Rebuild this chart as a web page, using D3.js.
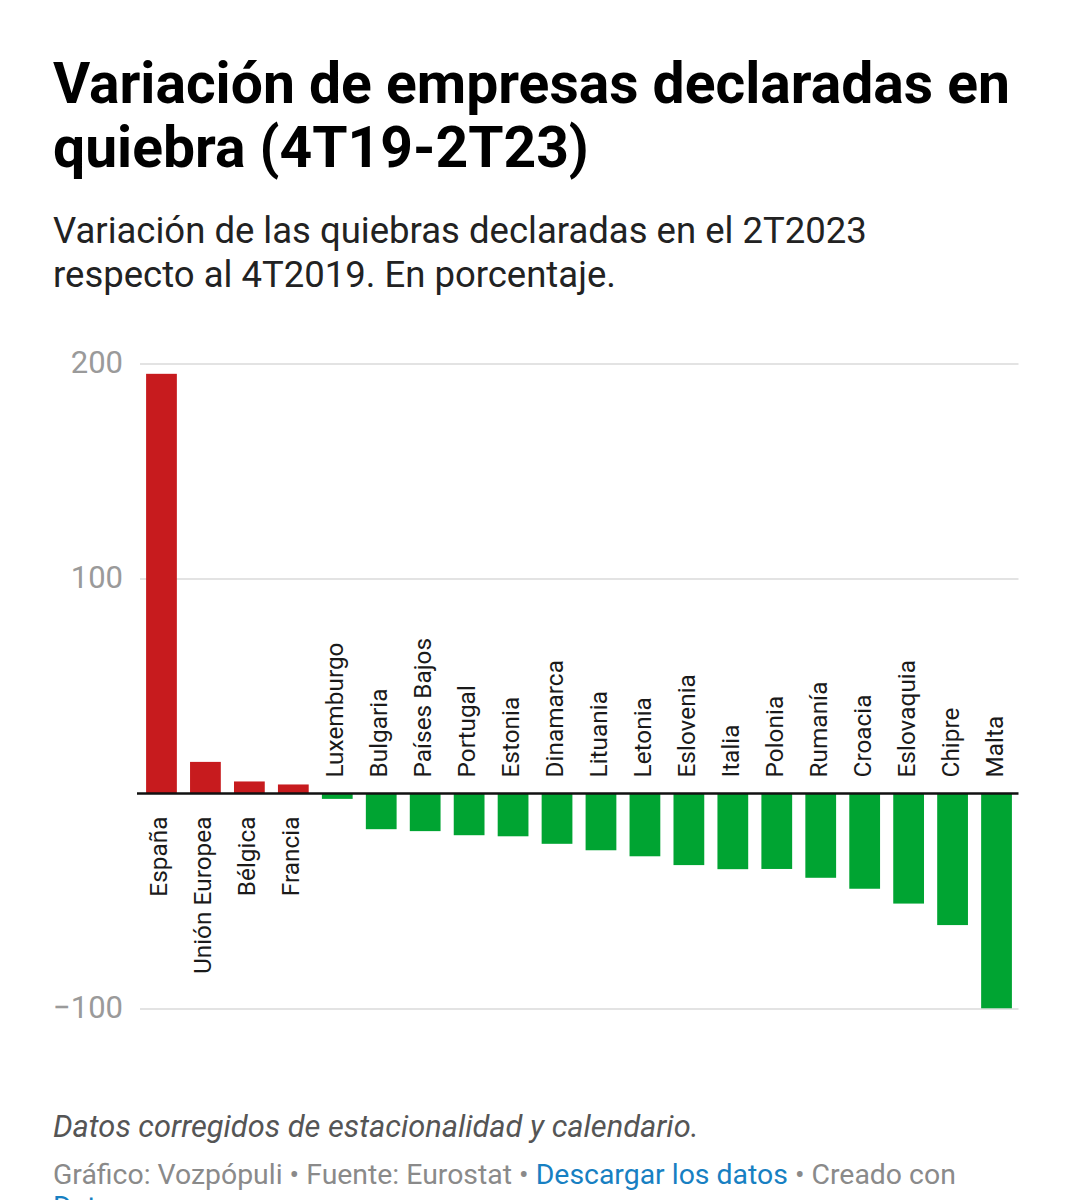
<!DOCTYPE html>
<html>
<head>
<meta charset="utf-8">
<script src="https://cdn.jsdelivr.net/npm/d3@7"></script>
<style>
  body { margin: 0; background: #fff; font-family: Roboto, sans-serif; }
  svg text { font-family: Roboto, sans-serif; }
</style>
</head>
<body>
<script>
// data
const countries = ['España', 'Unión Europea', 'Bélgica', 'Francia', 'Luxemburgo', 'Bulgaria',
    'Países Bajos', 'Portugal', 'Estonia', 'Dinamarca', 'Lituania', 'Letonia', 'Eslovenia',
    'Italia', 'Polonia', 'Rumanía', 'Croacia', 'Eslovaquia', 'Chipre', 'Malta']
const variation = [195.2, 14.7, 5.6, 4.2, -2.5, -16.6, -17.5, -19.4, -19.9, -23.4, -26.4, -29.2,
    -33.3, -35.2, -35.1, -39.2, -44.3, -51.2, -61.2, -99.9]
const yTicks = [200, 100, -100]

const titleLines = ['Variación de empresas declaradas en', 'quiebra (4T19-2T23)']
const subtitleLines = ['Variación de las quiebras declaradas en el 2T2023', 'respecto al 4T2019. En porcentaje.']
const note = 'Datos corregidos de estacionalidad y calendario.'

var width = 1068, height = 1200
var plot = { left: 139.5, right: 1018.5, top: 363.5, bottom: 1008.5 }

var svg = d3.select('body')
    .append('svg')
    .attr('width', width)
    .attr('height', height)

function makeHeader() {
    svg.selectAll('.title')
        .data(titleLines)
        .enter()
        .append('text')
        .attr('class', 'title')
        .attr('x', 53)
        .attr('y', (_, i) => 103 + i * 64)
        .style('font-size', '57px')
        .style('font-weight', 700)
        .style('fill', '#000')
        .text(d => d)

    svg.selectAll('.subtitle')
        .data(subtitleLines)
        .enter()
        .append('text')
        .attr('class', 'subtitle')
        .attr('x', 53)
        .attr('y', (_, i) => 243 + i * 44)
        .style('font-size', '36.5px')
        .style('fill', '#222')
        .text(d => d)
}

function makeChart() {
    var x = d3.scaleBand()
        .domain(countries)
        .range([plot.left, plot.right])
        .paddingInner(0.3)
        .paddingOuter(0.15)

    var y = d3.scaleLinear()
        .domain([-100, 200])
        .range([plot.bottom, plot.top])

    // gridlines + tick labels
    var yAxis = svg.append('g')
        .attr('class', 'y-axis')
        .attr('transform', 'translate(' + plot.right + ',0)')
        .call(d3.axisLeft(y)
            .tickValues(yTicks)
            .tickSize(plot.right - 140)
            .tickPadding(17)
            .tickFormat(d => String(d).replace('-', '\u2212')))
    yAxis.select('.domain').remove()
    yAxis.selectAll('line').attr('stroke', '#e3e3e3').attr('stroke-width', 2)
    yAxis.selectAll('text')
        .style('font-size', '31px')
        .style('fill', '#9a9a9a')
        .attr('dy', '0.28em')

    svg.selectAll('.bar')
        .data(countries)
        .enter()
        .append('rect')
        .attr('class', 'bar')
        .attr('x', d => x(d))
        .attr('width', x.bandwidth())
        .attr('y', (_, i) => y(Math.max(0, variation[i])))
        .attr('height', (_, i) => Math.abs(y(variation[i]) - y(0)))
        .style('fill', (_, i) => variation[i] >= 0 ? '#c71b1e' : '#00a432')

    // zero line
    svg.append('line')
        .attr('x1', 137)
        .attr('x2', plot.right)
        .attr('y1', y(0))
        .attr('y2', y(0))
        .attr('stroke', '#111')
        .attr('stroke-width', 2.5)

    // category labels, rotated, on the side of the zero line away from the bar
    svg.selectAll('.cat-label')
        .data(countries)
        .enter()
        .append('text')
        .attr('class', 'cat-label')
        .attr('transform', function (d, i) {
            var cx = x(d) + x.bandwidth() / 2 + 6
            var cy = variation[i] >= 0 ? y(0) + 23 : y(0) - 16
            return 'translate(' + cx + ',' + cy + ') rotate(-90)'
        })
        .attr('text-anchor', (_, i) => variation[i] >= 0 ? 'end' : 'start')
        .style('font-size', '24.4px')
        .style('fill', '#1a1a1a')
        .text(d => d)
}

function makeFooter() {
    svg.append('text')
        .attr('x', 53)
        .attr('y', 1137)
        .style('font-size', '30.8px')
        .style('font-style', 'italic')
        .style('fill', '#555')
        .text(note)

    var credit = svg.append('text')
        .attr('x', 53)
        .attr('y', 1184)
        .style('font-size', '28.4px')
        .style('fill', '#8a8a8a')
    credit.append('tspan').text('Gráfico: Vozpópuli • Fuente: Eurostat • ')
    credit.append('tspan').style('fill', '#1780c2').text('Descargar los datos')
    credit.append('tspan').text(' • Creado con')

    // the reference is cropped through this last line
    svg.append('text')
        .attr('x', 53)
        .attr('y', 1216)
        .style('font-size', '28.4px')
        .style('fill', '#1780c2')
        .text('Datawrapper')
}

makeHeader()
makeChart()
makeFooter()
</script>
</body>
</html>
